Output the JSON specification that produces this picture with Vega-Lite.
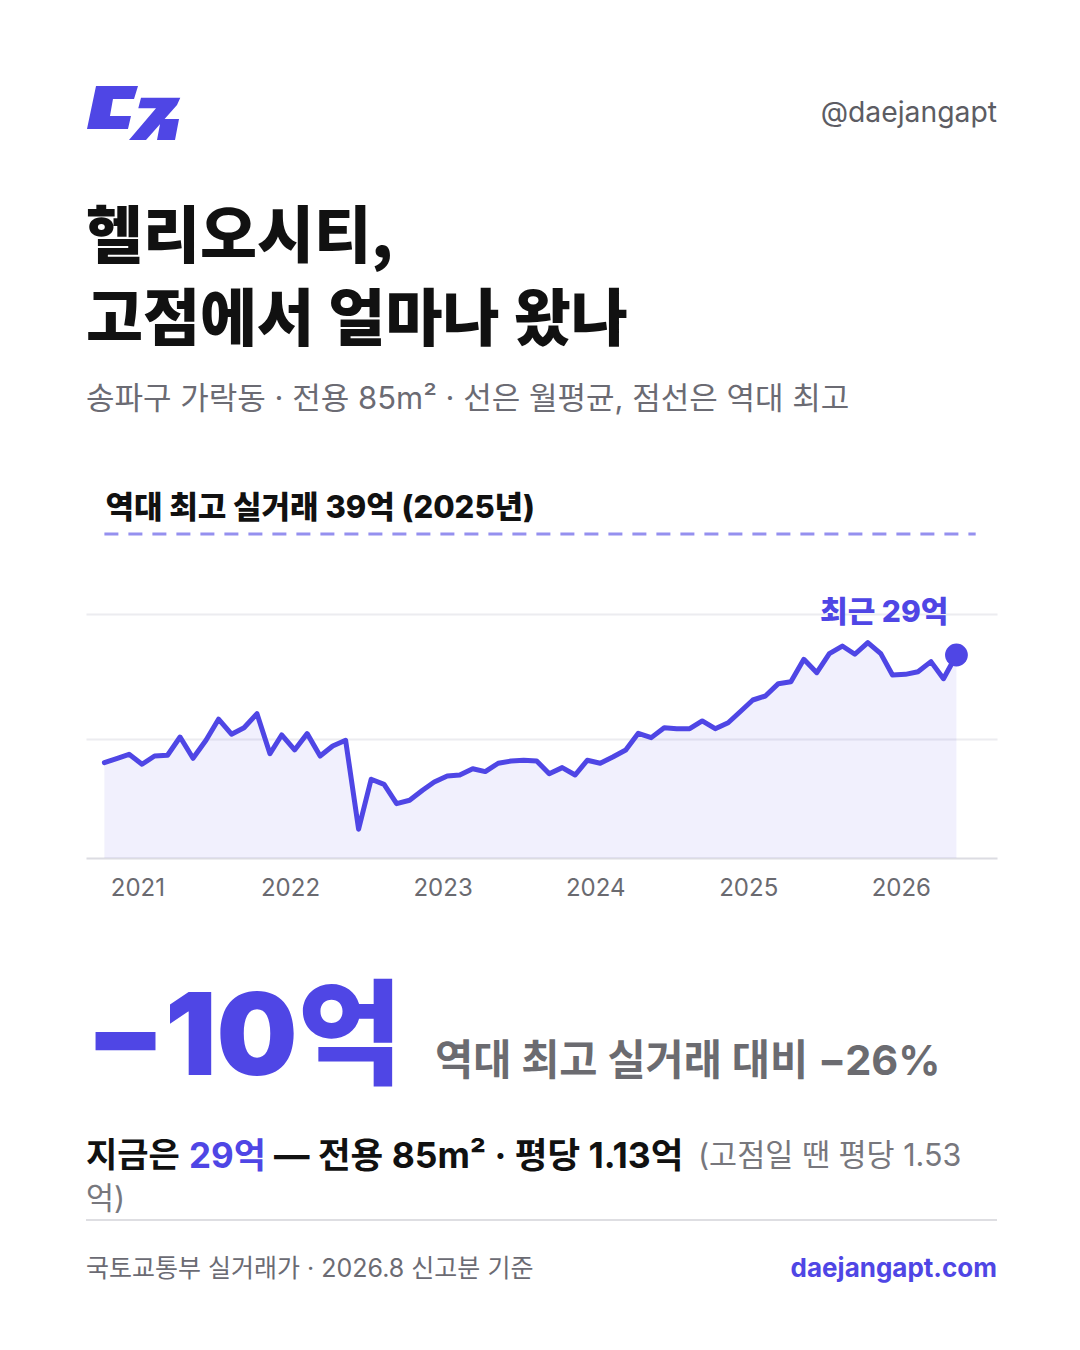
{
  "$schema": "https://vega.github.io/schema/vega-lite/v6.json",
  "background": "white",
  "padding": {"left": 85, "right": 84, "top": 19, "bottom": 0},
  "spacing": 0,
  "config": {
    "view": {"stroke": null},
    "font": "Inter, Noto Sans CJK KR",
    "text": {"font": "Inter, Noto Sans CJK KR"}
  },
  "datasets": {
    "meta": [
      {
        "handle": "@daejangapt",
        "drop": "−10억",
        "dropNote": "역대 최고 실거래 대비 −26%",
        "nowLead": "지금은",
        "nowPrice": "29억",
        "nowDetail": "— 전용 85m² · 평당 1.13억",
        "peakNote1": "(고점일 땐 평당 1.53",
        "peakNote2": "억)",
        "source": "국토교통부 실거래가 · 2026.8 신고분 기준",
        "site": "daejangapt.com"
      }
    ],
    "peak": [{"value": 39, "label": "역대 최고 실거래 39억 (2025년)"}],
    "latest": [{"date": "2026-08-01", "value": 29, "label": "최근 29억"}],
    "monthly": [
      {"date": "2021-01-01", "value": 20.10},
      {"date": "2021-02-01", "value": 20.46},
      {"date": "2021-03-01", "value": 20.79},
      {"date": "2021-04-01", "value": 19.97},
      {"date": "2021-05-01", "value": 20.65},
      {"date": "2021-06-01", "value": 20.71},
      {"date": "2021-07-01", "value": 22.22},
      {"date": "2021-08-01", "value": 20.46},
      {"date": "2021-09-01", "value": 21.95},
      {"date": "2021-10-01", "value": 23.69},
      {"date": "2021-11-01", "value": 22.45},
      {"date": "2021-12-01", "value": 22.99},
      {"date": "2022-01-01", "value": 24.15},
      {"date": "2022-02-01", "value": 20.84},
      {"date": "2022-03-01", "value": 22.39},
      {"date": "2022-04-01", "value": 21.15},
      {"date": "2022-05-01", "value": 22.50},
      {"date": "2022-06-01", "value": 20.65},
      {"date": "2022-07-01", "value": 21.48},
      {"date": "2022-08-01", "value": 21.95},
      {"date": "2022-09-01", "value": 14.60},
      {"date": "2022-10-01", "value": 18.73},
      {"date": "2022-11-01", "value": 18.31},
      {"date": "2022-12-01", "value": 16.71},
      {"date": "2023-01-01", "value": 16.99},
      {"date": "2023-02-01", "value": 17.82},
      {"date": "2023-03-01", "value": 18.50},
      {"date": "2023-04-01", "value": 19.00},
      {"date": "2023-05-01", "value": 19.08},
      {"date": "2023-06-01", "value": 19.60},
      {"date": "2023-07-01", "value": 19.36},
      {"date": "2023-08-01", "value": 20.05},
      {"date": "2023-09-01", "value": 20.24},
      {"date": "2023-10-01", "value": 20.30},
      {"date": "2023-11-01", "value": 20.24},
      {"date": "2023-12-01", "value": 19.19},
      {"date": "2024-01-01", "value": 19.69},
      {"date": "2024-02-01", "value": 19.08},
      {"date": "2024-03-01", "value": 20.30},
      {"date": "2024-04-01", "value": 20.05},
      {"date": "2024-05-01", "value": 20.57},
      {"date": "2024-06-01", "value": 21.15},
      {"date": "2024-07-01", "value": 22.53},
      {"date": "2024-08-01", "value": 22.17},
      {"date": "2024-09-01", "value": 22.99},
      {"date": "2024-10-01", "value": 22.91},
      {"date": "2024-11-01", "value": 22.91},
      {"date": "2024-12-01", "value": 23.55},
      {"date": "2025-01-01", "value": 22.91},
      {"date": "2025-02-01", "value": 23.40},
      {"date": "2025-03-01", "value": 24.29},
      {"date": "2025-04-01", "value": 25.28},
      {"date": "2025-05-01", "value": 25.61},
      {"date": "2025-06-01", "value": 26.63},
      {"date": "2025-07-01", "value": 26.79},
      {"date": "2025-08-01", "value": 28.64},
      {"date": "2025-09-01", "value": 27.54},
      {"date": "2025-10-01", "value": 29.11},
      {"date": "2025-11-01", "value": 29.74},
      {"date": "2025-12-01", "value": 29.06},
      {"date": "2026-01-01", "value": 30.02},
      {"date": "2026-02-01", "value": 29.11},
      {"date": "2026-03-01", "value": 27.35},
      {"date": "2026-04-01", "value": 27.40},
      {"date": "2026-05-01", "value": 27.62},
      {"date": "2026-06-01", "value": 28.45},
      {"date": "2026-07-01", "value": 27.04},
      {"date": "2026-08-01", "value": 29.00}
    ]
  },
  "vconcat": [
    {
      "width": 911,
      "height": 189,
      "data": {"name": "meta"},
      "layer": [
        {
          "mark": {
            "type": "point",
            "shape": "M-0.789,-0.579L0.095,-0.579L0.011,-0.305L-0.432,-0.305L-0.495,0.053L-0.053,0.053L-0.116,0.326L-0.979,0.326ZM0.158,-0.333L0.985,-0.333L0.916,-0.179L0.263,0.558L-0.095,0.558L0.474,-0.109L0.101,-0.109ZM0.579,0.116L0.958,0.116L0.874,0.558L0.495,0.558Z",
            "filled": true,
            "size": 9025,
            "color": "#4f46e5",
            "opacity": 1,
            "strokeWidth": 0,
            "xOffset": 47.5
          },
          "encoding": {
            "x": {"datum": 0, "type": "quantitative", "scale": {"domain": [0, 1], "nice": false, "zero": false}, "axis": null}
          }
        },
        {
          "mark": {"type": "text", "align": "right", "baseline": "middle", "fontSize": 28.3, "color": "#5c5c63", "font": "Inter"},
          "encoding": {
            "x": {"datum": 1, "type": "quantitative", "scale": {"domain": [0, 1], "nice": false, "zero": false}, "axis": null},
            "text": {"field": "handle"}
          }
        }
      ]
    },
    {
      "width": 911,
      "height": 324,
      "title": {
        "text": ["헬리오시티,", "고점에서 얼마나 왔나"],
        "subtitle": "송파구 가락동 · 전용 85m² · 선은 월평균, 점선은 역대 최고",
        "anchor": "start",
        "frame": "group",
        "font": "Noto Sans CJK KR",
        "fontSize": 62,
        "fontWeight": 900,
        "color": "#111111",
        "lineHeight": 83,
        "subtitleFont": "Inter, Noto Sans CJK KR",
        "subtitleFontSize": 31,
        "subtitleFontWeight": 400,
        "subtitleColor": "#6b6b73",
        "subtitlePadding": 31,
        "offset": 77
      },
      "layer": [
        {
          "data": {"name": "monthly"},
          "mark": {"type": "area", "color": "#4f46e5", "opacity": 0.08},
          "encoding": {
            "x": {
              "field": "date",
              "type": "temporal",
              "scale": {
                "type": "utc",
                "domain": [
                  {"year": 2020, "month": 11, "date": 18, "utc": true},
                  {"year": 2026, "month": 11, "date": 6, "utc": true}
                ],
                "nice": false
              },
              "axis": {
                "title": null,
                "values": [
                  {"year": 2021, "month": 1, "date": 1, "utc": true},
                  {"year": 2022, "month": 1, "date": 1, "utc": true},
                  {"year": 2023, "month": 1, "date": 1, "utc": true},
                  {"year": 2024, "month": 1, "date": 1, "utc": true},
                  {"year": 2025, "month": 1, "date": 1, "utc": true},
                  {"year": 2026, "month": 1, "date": 1, "utc": true}
                ],
                "labelExpr": "utcFormat(datum.value, '%Y')",
                "labelAlign": "center",
                "labelOffset": 33,
                "labelPadding": 18,
                "labelFontSize": 24,
                "labelColor": "#6a6a70",
                "labelFont": "Inter",
                "labelFlush": false,
                "labelOverlap": false,
                "ticks": false,
                "grid": false,
                "domainColor": "#dcdce2",
                "domainWidth": 2
              }
            },
            "y": {
              "field": "value",
              "type": "quantitative",
              "scale": {"domain": [12.22, 39], "nice": false, "zero": false},
              "axis": {
                "title": null,
                "values": [22.06, 32.39],
                "grid": true,
                "gridColor": "#ececf0",
                "gridWidth": 2,
                "labels": false,
                "ticks": false,
                "domain": false
              }
            },
            "y2": {"datum": 12.22}
          }
        },
        {
          "data": {"name": "monthly"},
          "mark": {"type": "line", "color": "#4f46e5", "strokeWidth": 5, "strokeJoin": "round", "strokeCap": "round"},
          "encoding": {
            "x": {"field": "date", "type": "temporal"},
            "y": {"field": "value", "type": "quantitative"}
          }
        },
        {
          "data": {"name": "peak"},
          "mark": {"type": "rule", "color": "#4f46e5", "opacity": 0.6, "strokeWidth": 3, "strokeDash": [14, 10]},
          "encoding": {
            "x": {"datum": {"year": 2021, "month": 1, "date": 1, "utc": true}, "type": "temporal"},
            "x2": {"datum": {"year": 2026, "month": 9, "date": 16, "utc": true}},
            "y": {"field": "value", "type": "quantitative"}
          }
        },
        {
          "data": {"name": "peak"},
          "mark": {"type": "text", "align": "left", "baseline": "middle", "dx": 1, "dy": -25, "fontSize": 31, "fontWeight": 800, "color": "#111111"},
          "encoding": {
            "x": {"datum": {"year": 2021, "month": 1, "date": 1, "utc": true}, "type": "temporal"},
            "y": {"field": "value", "type": "quantitative"},
            "text": {"field": "label"}
          }
        },
        {
          "data": {"name": "latest"},
          "mark": {"type": "point", "filled": true, "size": 520, "color": "#4f46e5", "opacity": 1},
          "encoding": {
            "x": {"field": "date", "type": "temporal"},
            "y": {"field": "value", "type": "quantitative"}
          }
        },
        {
          "data": {"name": "latest"},
          "mark": {"type": "text", "align": "right", "baseline": "middle", "dx": -8, "dy": -42, "fontSize": 30, "fontWeight": 800, "color": "#4f46e5"},
          "encoding": {
            "x": {"field": "date", "type": "temporal"},
            "y": {"field": "value", "type": "quantitative"},
            "text": {"field": "label"}
          }
        }
      ]
    },
    {
      "width": 911,
      "height": 402,
      "data": {"name": "meta"},
      "encoding": {
        "x": {"datum": 0, "type": "quantitative", "scale": {"domain": [0, 1], "nice": false, "zero": false}, "axis": null}
      },
      "layer": [
        {
          "mark": {"type": "text", "align": "left", "baseline": "alphabetic", "fontSize": 114, "fontWeight": 900, "color": "#4f46e5"},
          "encoding": {
            "y": {"datum": 0.4354, "type": "quantitative", "scale": {"domain": [0, 1], "reverse": true, "nice": false, "zero": false}, "axis": null},
            "text": {"field": "drop"}
          }
        },
        {
          "mark": {"type": "text", "align": "left", "baseline": "alphabetic", "dx": 349, "fontSize": 41.5, "fontWeight": 700, "color": "#6b6b70"},
          "encoding": {
            "y": {"datum": 0.4354, "type": "quantitative"},
            "text": {"field": "dropNote"}
          }
        },
        {
          "mark": {"type": "text", "align": "left", "baseline": "middle", "fontSize": 34, "fontWeight": 700, "color": "#111111"},
          "encoding": {
            "y": {"datum": 0.6393, "type": "quantitative"},
            "text": {"field": "nowLead"}
          }
        },
        {
          "mark": {"type": "text", "align": "left", "baseline": "middle", "dx": 103, "fontSize": 35, "fontWeight": 700, "color": "#4f46e5"},
          "encoding": {
            "y": {"datum": 0.6393, "type": "quantitative"},
            "text": {"field": "nowPrice"}
          }
        },
        {
          "mark": {"type": "text", "align": "left", "baseline": "middle", "dx": 188, "fontSize": 35.5, "fontWeight": 700, "color": "#111111"},
          "encoding": {
            "y": {"datum": 0.6393, "type": "quantitative"},
            "text": {"field": "nowDetail"}
          }
        },
        {
          "mark": {"type": "text", "align": "left", "baseline": "middle", "dx": 612, "fontSize": 30.5, "fontWeight": 400, "color": "#77777d"},
          "encoding": {
            "y": {"datum": 0.6393, "type": "quantitative"},
            "text": {"field": "peakNote1"}
          }
        },
        {
          "mark": {"type": "text", "align": "left", "baseline": "middle", "fontSize": 30.5, "fontWeight": 400, "color": "#77777d"},
          "encoding": {
            "y": {"datum": 0.7463, "type": "quantitative"},
            "text": {"field": "peakNote2"}
          }
        },
        {
          "mark": {"type": "rule", "color": "#dedee2", "strokeWidth": 2},
          "encoding": {
            "x2": {"datum": 1},
            "y": {"datum": 0.796, "type": "quantitative"}
          }
        },
        {
          "mark": {"type": "text", "align": "left", "baseline": "middle", "fontSize": 25, "fontWeight": 400, "color": "#6b6b73"},
          "encoding": {
            "y": {"datum": 0.918, "type": "quantitative"},
            "text": {"field": "source"}
          }
        },
        {
          "mark": {"type": "text", "align": "right", "baseline": "middle", "fontSize": 26, "fontWeight": 700, "color": "#4f46e5"},
          "encoding": {
            "x": {"datum": 1, "type": "quantitative"},
            "y": {"datum": 0.918, "type": "quantitative"},
            "text": {"field": "site"}
          }
        }
      ]
    }
  ]
}
